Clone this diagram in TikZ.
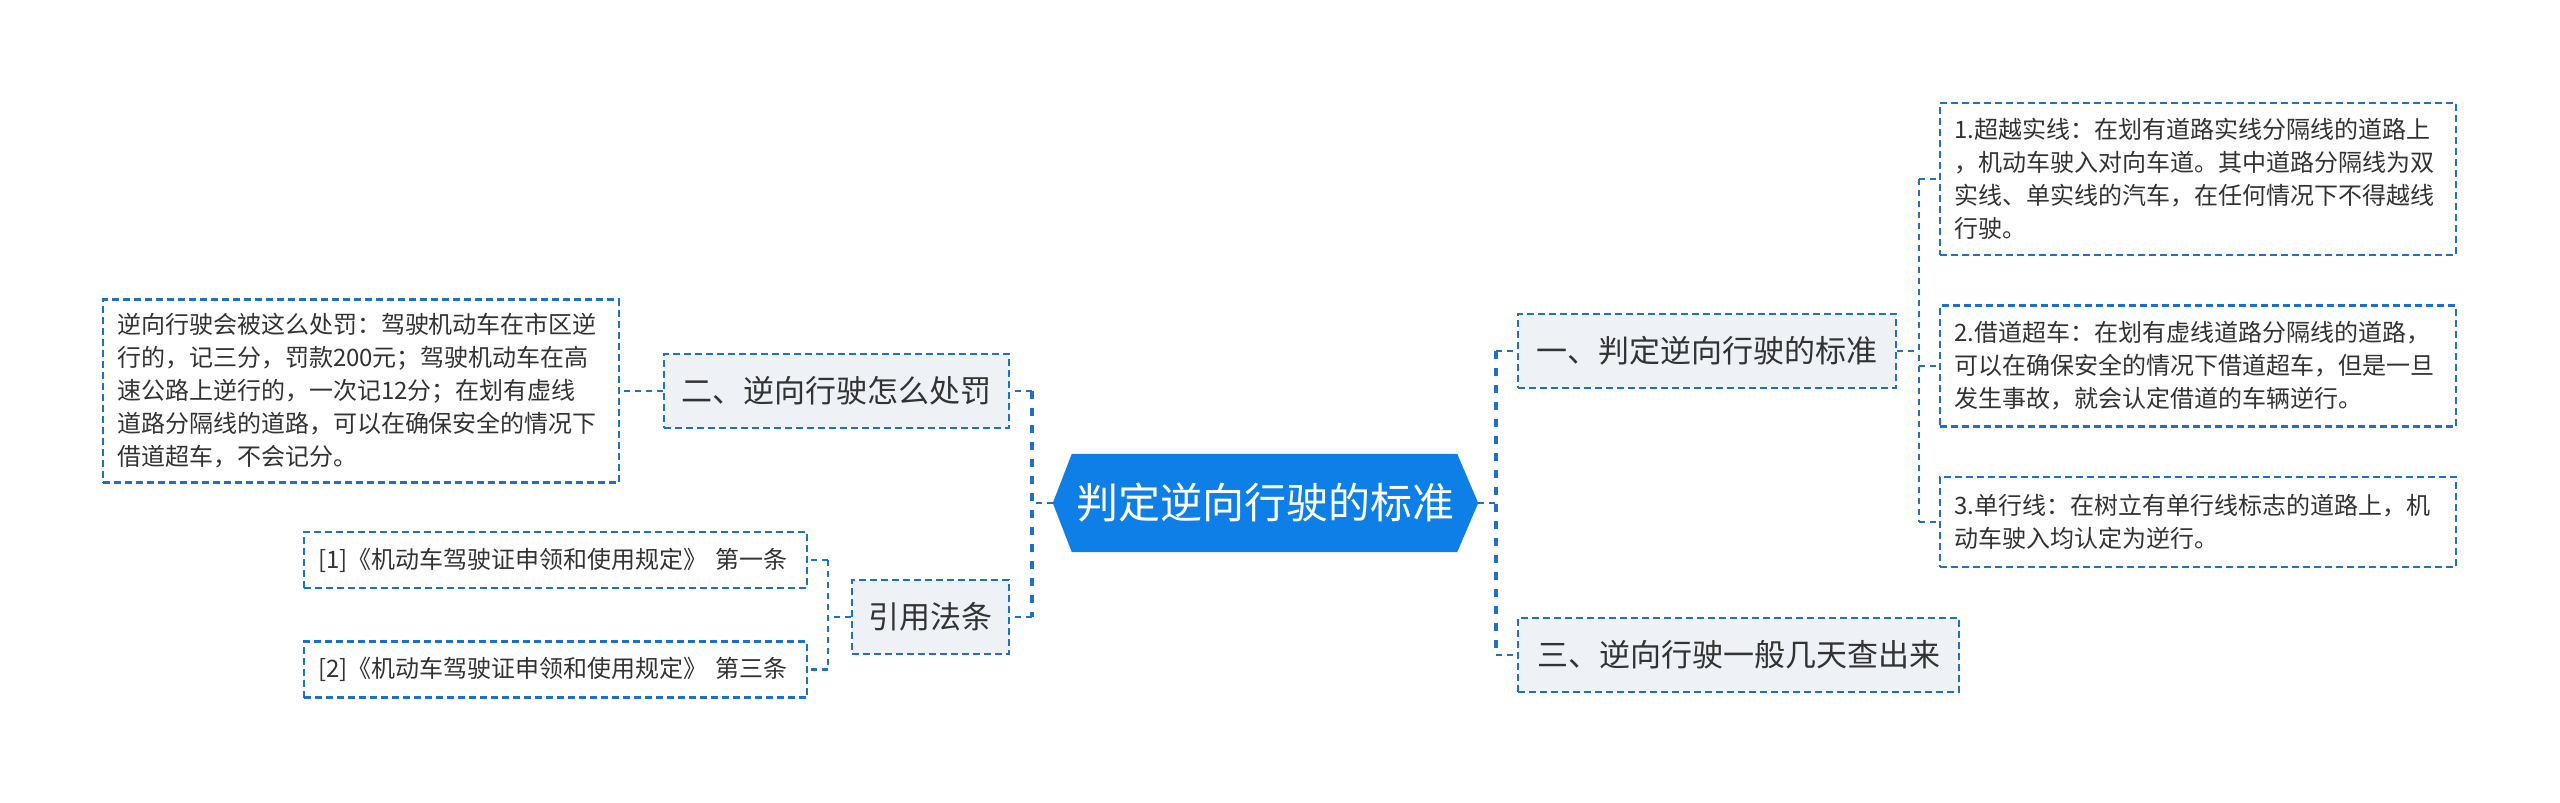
\documentclass[tikz,border=0pt]{standalone}
\usepackage{fontspec}
\setmainfont{Noto Sans CJK SC}
\usetikzlibrary{calc}
\definecolor{lineblue}{HTML}{1F6FCF}
\definecolor{mainblue}{HTML}{0E7FE6}
\definecolor{greyfill}{HTML}{EEF1F5}
\definecolor{txt}{HTML}{333333}
\begin{document}
\begin{tikzpicture}[x=1pt,y=-1pt,
  dashline/.style={draw=lineblue, line width=2.2pt, dash pattern=on 7pt off 4pt},
  branchbox/.style={dashline, fill=greyfill, text=txt, font=\fontsize{31}{38}\selectfont, minimum height=74pt, inner xsep=0pt, inner ysep=0pt},
  leafbox/.style={dashline, fill=white, text=txt, font=\fontsize{24}{33}\selectfont, align=left, inner xsep=14pt, inner ysep=0pt},
  conn/.style={draw=lineblue, line width=2.2pt, dash pattern=on 6pt off 5pt},
  spine/.style={draw=lineblue, line width=4pt, dash pattern=on 8pt off 9pt},
  centerbox/.style={minimum width=425pt, minimum height=98pt, inner sep=0pt, text=white, font=\fontsize{42}{50}\selectfont}
]
\useasboundingbox (0,0) rectangle (2560,803);

% central node
\node[centerbox] (c) at (1265.5,503) {};
\fill[mainblue] (c.west) -- ($(c.north west)+(19,0)$) -- ($(c.north east)+(-21,0)$) -- (c.east)
  -- ($(c.south east)+(-21,0)$) -- ($(c.south west)+(19,0)$) -- cycle;
\node[centerbox] (ct) at (c.center) {判定逆向行驶的标准};

% right branches
\node[branchbox, minimum width=378pt] (b1) at (1707,351) {一、判定逆向行驶的标准};
\node[branchbox, minimum width=441pt] (b3) at (1738.5,655) {三、逆向行驶一般几天查出来};

% right leaves
\node[leafbox, text width=488pt, minimum height=152pt] (l1) at (2198,179)
  {1.超越实线：在划有道路实线分隔线的道路上\\，机动车驶入对向车道。其中道路分隔线为双\\实线、单实线的汽车，在任何情况下不得越线\\行驶。};
\node[leafbox, text width=488pt, minimum height=121pt] (l2) at (2198,366)
  {2.借道超车：在划有虚线道路分隔线的道路，\\可以在确保安全的情况下借道超车，但是一旦\\发生事故，就会认定借道的车辆逆行。};
\node[leafbox, text width=488pt, minimum height=90pt] (l3) at (2198,522)
  {3.单行线：在树立有单行线标志的道路上，机\\动车驶入均认定为逆行。};

% left branches
\node[branchbox, minimum width=345pt] (b2) at (836.5,391) {二、逆向行驶怎么处罚};
\node[branchbox, minimum width=157pt] (b4) at (930.5,617) {引用法条};

% left leaves
\node[leafbox, text width=488pt, minimum height=183pt] (lp) at (361,391)
  {逆向行驶会被这么处罚：驾驶机动车在市区逆\\行的，记三分，罚款200元；驾驶机动车在高\\速公路上逆行的，一次记12分；在划有虚线\\道路分隔线的道路，可以在确保安全的情况下\\借道超车，不会记分。};
\node[leafbox, text width=475pt, minimum height=56pt] (r1) at (555.5,560)
  {[1]《机动车驾驶证申领和使用规定》 第一条};
\node[leafbox, text width=475pt, minimum height=56pt] (r2) at (555.5,669.5)
  {[2]《机动车驾驶证申领和使用规定》 第三条};

% spine coordinates
\coordinate (sr) at ($(c.east)+(18,0)$);
\coordinate (sl) at ($(c.west)+(-21,0)$);
\coordinate (s1) at ($(b1.east)+(22,0)$);
\coordinate (s4) at ($(b4.west)+(-23,0)$);

% connectors
\draw[conn] (c.east) -- (sr);
\draw[conn] (sr |- b1.west) -- (b1.west);
\draw[conn] (sr |- b3.west) -- (b3.west);
\draw[spine] (sr |- b1.west) -- (sr |- b3.west);

\draw[conn] (c.west) -- (sl);
\draw[conn] (sl |- b2.east) -- (b2.east);
\draw[conn] (sl |- b4.east) -- (b4.east);
\draw[spine] (sl |- b2.east) -- (sl |- b4.east);

\draw[conn] (b1.east) -- (s1);
\draw[conn] (s1 |- l1.west) -- (s1 |- l3.west);
\draw[conn] (s1 |- l1.west) -- (l1.west);
\draw[conn] (s1 |- l2.west) -- (l2.west);
\draw[conn] (s1 |- l3.west) -- (l3.west);

\draw[conn] (b2.west) -- (lp.east);

\draw[conn] (b4.west) -- (s4);
\draw[conn] (s4 |- r1.east) -- (s4 |- r2.east);
\draw[conn] (s4 |- r1.east) -- (r1.east);
\draw[conn] (s4 |- r2.east) -- (r2.east);
\end{tikzpicture}
\end{document}
